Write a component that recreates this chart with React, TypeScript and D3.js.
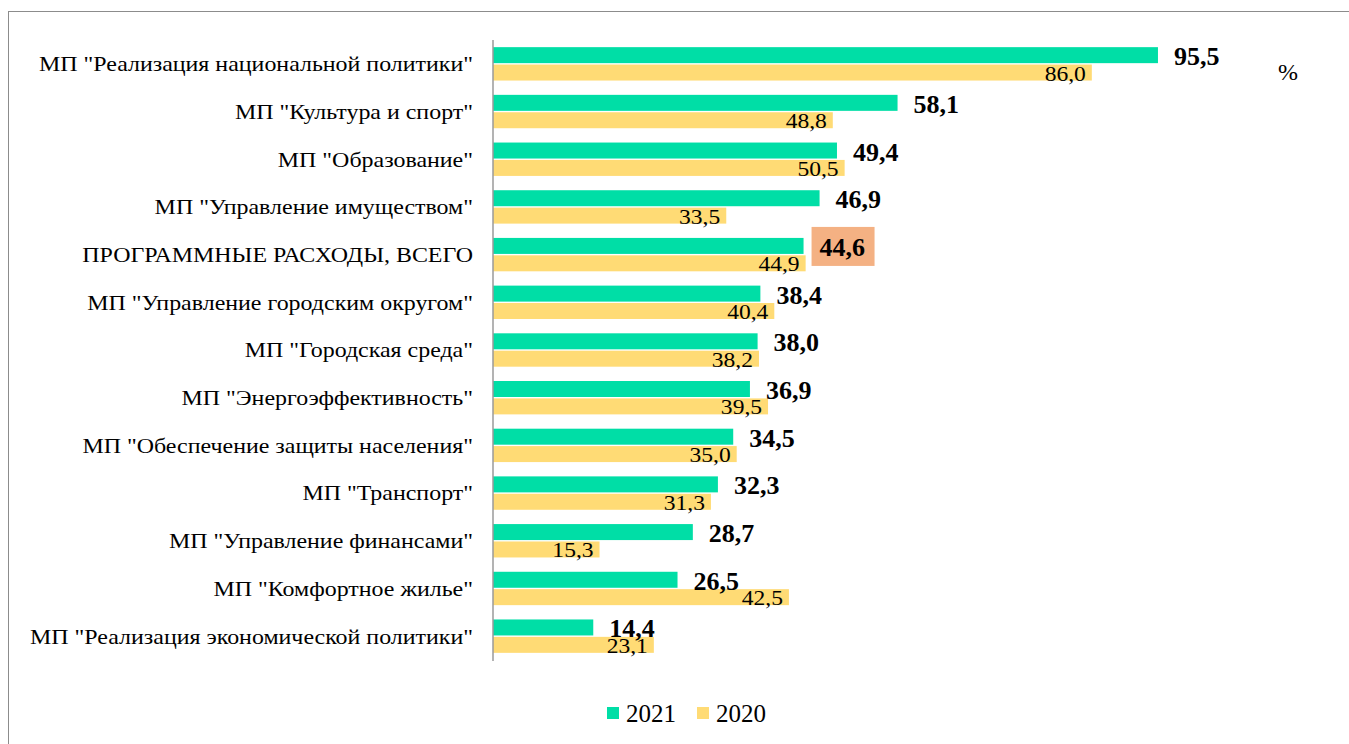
import React from "react";
import * as d3 from "d3";

const categories = [
  'МП "Реализация национальной политики"',
  'МП "Культура и спорт"',
  'МП "Образование"',
  'МП "Управление имуществом"',
  "ПРОГРАММНЫЕ РАСХОДЫ, ВСЕГО",
  'МП "Управление городским округом"',
  'МП "Городская среда"',
  'МП "Энергоэффективность"',
  'МП "Обеспечение защиты населения"',
  'МП "Транспорт"',
  'МП "Управление финансами"',
  'МП "Комфортное жилье"',
  'МП "Реализация экономической политики"',
];
const values2021 = [95.5, 58.1, 49.4, 46.9, 44.6, 38.4, 38.0, 36.9, 34.5, 32.3, 28.7, 26.5, 14.4];
const values2020 = [86.0, 48.8, 50.5, 33.5, 44.9, 40.4, 38.2, 39.5, 35.0, 31.3, 15.3, 42.5, 23.1];
const seriesNames = ["2021", "2020"];
const highlighted = "ПРОГРАММНЫЕ РАСХОДЫ, ВСЕГО";

const W = 1349;
const H = 744;
const green = "#00DEA6";
const yellow = "#FFDB75";
const font = "Liberation Serif";

const fmt = (v: number) => v.toFixed(1).replace(".", ",");

const App = () => {
  const x = d3.scaleLinear().domain([0, 100]).range([493, 493 + 696.3]);
  const y = d3.scaleBand<string>().domain(categories).range([40, 660]).paddingInner(0.3).paddingOuter(0.15);
  const sub = d3.scaleBand<string>().domain(seriesNames).range([0, y.bandwidth()]).paddingInner(0.08);

  return (
    <svg width={W} height={H} style={{ position: "absolute", left: 0, top: 0 }}>
      <rect x={8.5} y={11.5} width={W + 10} height={H + 10} fill="#fff" stroke="#8c8c8c" strokeWidth={1} />

      {categories.map((c, i) => {
        const y0 = y(c)!;
        const g1 = y0 + sub("2021")!;
        const g2 = y0 + sub("2020")!;
        const v1 = values2021[i];
        const v2 = values2020[i];
        const lx = x(v1) + 16;
        return (
          <g key={c}>
            <g transform={`translate(473,${y0 + y.bandwidth() / 2}) scale(1.14,1)`}>
              <text x={0} y={0} dy="0.35em" textAnchor="end" fontSize={21} fontFamily={font} fill="#000">
                {c}
              </text>
            </g>
            <rect x={x(0)} y={g1} width={x(v1) - x(0)} height={sub.bandwidth()} fill={green} />
            <rect x={x(0)} y={g2} width={x(v2) - x(0)} height={sub.bandwidth()} fill={yellow} />
            {c === highlighted && (
              <rect x={lx - 8} y={g1 - 11} width={63} height={39} fill="#F4B183" />
            )}
            <text x={lx} y={g1 + 18} fontSize={26} fontWeight="bold" fontFamily={font} fill="#000">
              {fmt(v1)}
            </text>
            <g transform={`translate(${x(v2) - 6},${g2 + 16}) scale(1.07,1)`}>
              <text x={0} y={0} textAnchor="end" fontSize={22} fontFamily={font} fill="#000">
                {fmt(v2)}
              </text>
            </g>
          </g>
        );
      })}

      <line x1={x(0)} x2={x(0)} y1={40} y2={661} stroke="#9a9a9a" strokeWidth={1.5} />

      <text x={1278} y={80} fontSize={24} fontFamily={font} fill="#000">%</text>

      <g>
        <rect x={607} y={707} width={12} height={12} fill={green} />
        <text x={626} y={722} fontSize={25} fontFamily={font} fill="#000">2021</text>
        <rect x={697} y={707} width={12} height={12} fill={yellow} />
        <text x={716} y={722} fontSize={25} fontFamily={font} fill="#000">2020</text>
      </g>
    </svg>
  );
};

export default App;
